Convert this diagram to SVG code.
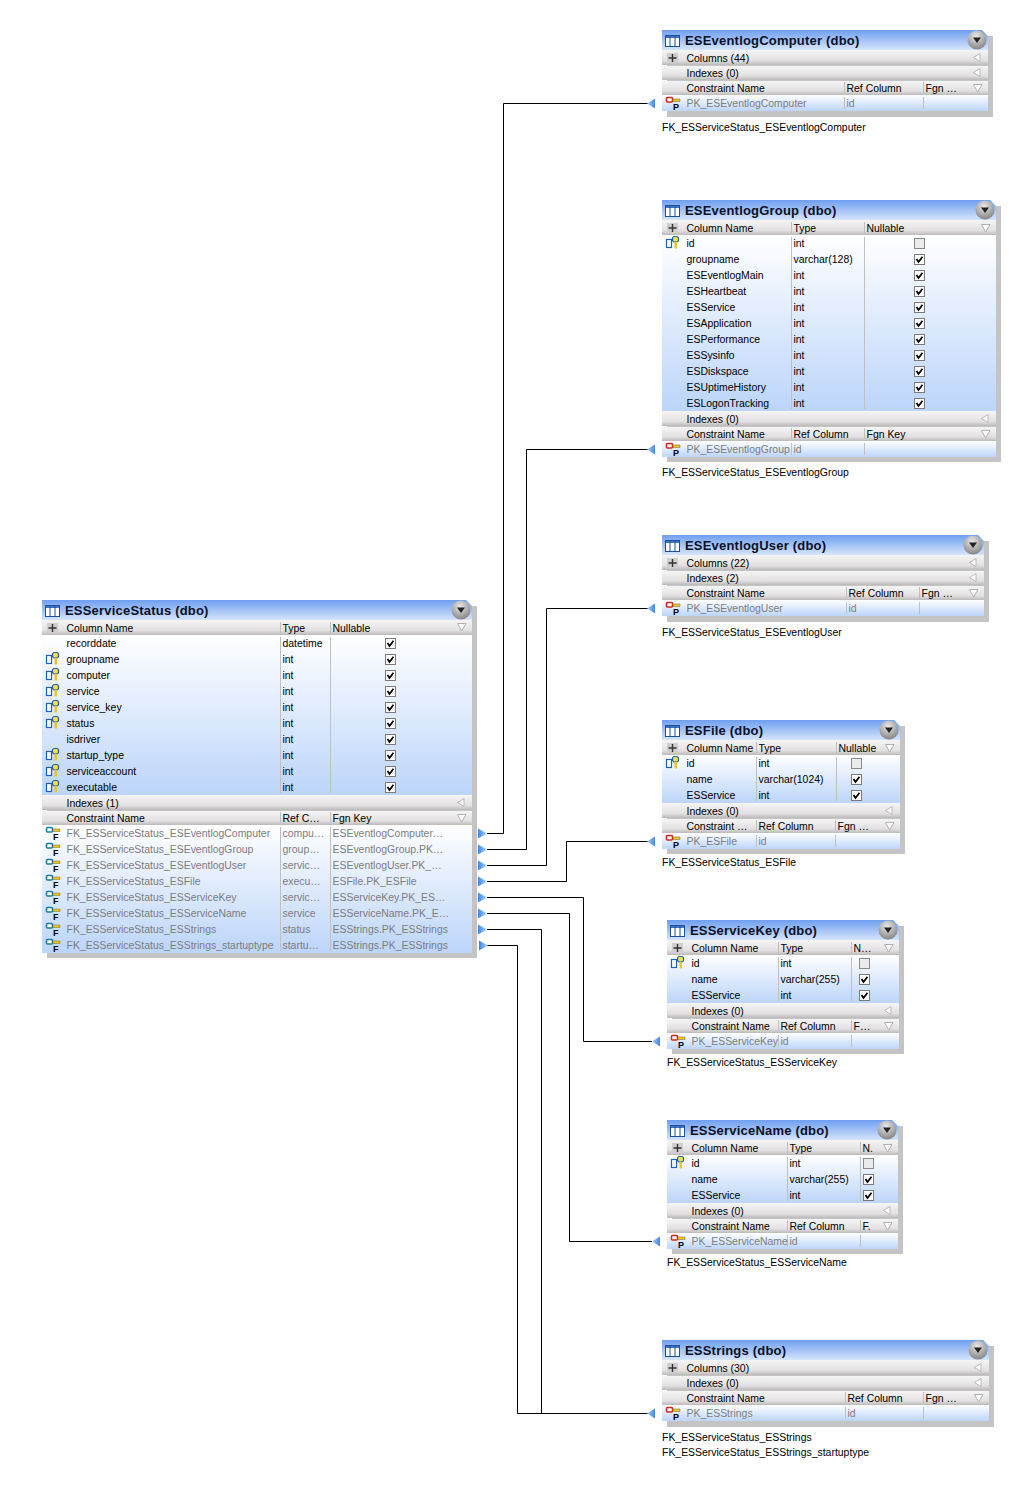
<svg xmlns="http://www.w3.org/2000/svg" width="1023" height="1489" viewBox="0 0 1023 1489">
<style>
text{font-family:"Liberation Sans",Arial,sans-serif;font-size:10.45px;fill:#000}
.g{fill:#7d7d7d}
.ti{font-size:13px;font-weight:bold;fill:#0a1028;letter-spacing:.2px}
.sh{fill:#c4c4c4}
.hb{fill:url(#hband)}
.tb{fill:url(#title)}
.bd{fill:url(#body)}
.dv{stroke:#c0c0c0;stroke-width:1;fill:none}
.cn{stroke:#000;stroke-width:1;fill:none}
.ic{font-size:9px;font-weight:bold;fill:#000}
</style>
<defs>
<linearGradient id="hband" x1="0" y1="0" x2="0" y2="1"><stop offset="0" stop-color="#f6f5f5"/><stop offset=".7" stop-color="#e2e0e0"/><stop offset="1" stop-color="#bcb9b9"/></linearGradient>
<linearGradient id="title" x1="0" y1="0" x2="0" y2="1"><stop offset="0" stop-color="#6f9ff0"/><stop offset="1" stop-color="#d6e5fb"/></linearGradient>
<linearGradient id="body" x1="0" y1="0" x2="0" y2="1"><stop offset="0" stop-color="#ffffff"/><stop offset="1" stop-color="#bcd5fa"/></linearGradient>
<radialGradient id="btn" cx=".45" cy=".3" r=".75"><stop offset="0" stop-color="#e8e8e8"/><stop offset="1" stop-color="#7f7f7f"/></radialGradient>
<linearGradient id="arr" x1="0" y1="0" x2="1" y2="0"><stop offset="0" stop-color="#3f88e6"/><stop offset="1" stop-color="#a9cdf6"/></linearGradient>
<linearGradient id="arl" x1="0" y1="0" x2="1" y2="0"><stop offset="0" stop-color="#a9cdf6"/><stop offset="1" stop-color="#3f88e6"/></linearGradient>
<symbol id="tbl" width="14" height="12" overflow="visible"><rect x="-.5" y=".5" width="14" height="11" fill="#fff" stroke="#1f4f95"/><rect x="0" y="1" width="13" height="2" fill="#3f74c4"/><path d="M4 1V11M9 1V11" stroke="#1f4f95"/></symbol>
<symbol id="btnS" width="20" height="20" overflow="visible"><circle cx="9" cy="8" r="9.500" fill="url(#btn)"/><path d="M5 5.500H13L9 11Z" fill="#222"/></symbol>
<symbol id="plus" width="12" height="12" overflow="visible"><rect x="-1" y="0" width="11" height="10" fill="#d0cece"/><path d="M4.500 1V9M.5 5H8.500" stroke="#333" stroke-width="1.400"/></symbol>
<symbol id="tri" width="12" height="12" overflow="visible"><path d="M.5 4.500L7 .5V8.500Z" fill="#fff" stroke="#b9b9b9"/></symbol>
<symbol id="trd" width="12" height="12" overflow="visible"><path d="M.5 .5H9L4.700 8Z" fill="#fff" stroke="#b0b0b0"/></symbol>
<symbol id="chk" width="12" height="12" overflow="visible"><rect x=".5" y=".5" width="10" height="10" fill="#fff" stroke="#7a7a7a"/><path d="M2.500 5L4.500 8L8.500 2.800" fill="none" stroke="#000" stroke-width="1.800"/></symbol>
<symbol id="unchk" width="12" height="12" overflow="visible"><rect x=".5" y=".5" width="10" height="10" fill="#ececec" stroke="#8a8a8a"/></symbol>
<symbol id="ck" width="16" height="14" overflow="visible"><rect x="-.5" y="2.500" width="5" height="8" fill="#fff" stroke="#1f5fb5" stroke-width="1.200"/><rect x="5.500" y="-.5" width="6" height="5.500" rx="2" fill="#f6df52" stroke="#1d5fa0" stroke-width="1.200"/><rect x="7.500" y="5" width="2.500" height="6.500" fill="#e8c52a"/></symbol>
<symbol id="pk" width="16" height="16" overflow="visible"><rect x=".5" y="-.5" width="6" height="4.500" rx="1" fill="#fff" stroke="#cf2a1c" stroke-width="1.600"/><path d="M7 1H14V3.500H7Z" fill="#e8c52a" stroke="#7a6a20" stroke-width=".5"/><text x="7" y="12" class="ic">P</text></symbol>
<symbol id="fk" width="16" height="16" overflow="visible"><rect x=".5" y="-.5" width="6" height="4.500" rx="1" fill="#fff" stroke="#1e7d9e" stroke-width="1.600"/><path d="M7 1H14V3.500H7Z" fill="#e8c52a" stroke="#7a6a20" stroke-width=".5"/><text x="7" y="12" class="ic">F</text></symbol>
</defs>
<rect width="1023" height="1489" fill="#fff"/>

<g id="connectors">
<path class="cn" d="M487 833.500H503.500V103.500H648"/>
<path class="cn" d="M487 849.500H526.500V449.500H648"/>
<path class="cn" d="M487 865.500H546.500V608.500H648"/>
<path class="cn" d="M487 881.500H566.500V841.500H648"/>
<path class="cn" d="M487 897.500H583.500V1041.500H652"/>
<path class="cn" d="M487 913.500H569.500V1241.500H652"/>
<path class="cn" d="M487 929.500H541.500V1413.500H648"/>
<path class="cn" d="M487 945.500H517.500V1413.500H648"/>
<g fill="url(#arr)">
<path d="M478 828.500L487 833.500L478 838.500Z"/><path d="M478 844.500L487 849.500L478 854.500Z"/><path d="M478 860.500L487 865.500L478 870.500Z"/><path d="M478 876.500L487 881.500L478 886.500Z"/><path d="M478 892.500L487 897.500L478 902.500Z"/><path d="M478 908.500L487 913.500L478 918.500Z"/><path d="M478 924.500L487 929.500L478 934.500Z"/><path d="M479 940.500L488 945.500L479 950.500Z"/>
</g>
<g fill="url(#arl)">
<path d="M655 98.500L647 103.500L655 108.500Z"/><path d="M655 444.500L647 449.500L655 454.500Z"/><path d="M655 603.500L647 608.500L655 613.500Z"/><path d="M655 836.500L647 841.500L655 846.500Z"/><path d="M660 1036.500L652 1041.500L660 1046.500Z"/><path d="M660 1236.500L652 1241.500L660 1246.500Z"/><path d="M655 1408.500L647 1413.500L655 1418.500Z"/>
</g>
</g>

<g id="ESServiceStatus">
<rect class="sh" x="47" y="606" width="430" height="352"/>
<path class="tb" d="M42 600H466L472 606V620H42Z"/>
<rect class="hb" x="42" y="620" width="430" height="15"/>
<rect class="bd" x="42" y="635" width="430" height="160"/>
<rect class="hb" x="42" y="795" width="430" height="15"/>
<rect class="hb" x="42" y="811" width="430" height="14"/>
<rect class="bd" x="42" y="825" width="430" height="128"/>
<use href="#tbl" x="46" y="605"/><text class="ti" x="65" y="615">ESServiceStatus (dbo)</text><use href="#btnS" x="452" y="602"/>
<use href="#plus" x="48" y="623"/>
<text x="66.500" y="632">Column Name</text><text x="282.500" y="632">Type</text><text x="332.500" y="632">Nullable</text>
<use href="#trd" x="457" y="623"/>
<path class="dv" d="M280.500 622V633M330.500 622V633M280.500 637V793M330.500 637V793"/>
<text x="66.500" y="647">recorddate</text><text x="282.500" y="647">datetime</text><use href="#chk" x="385" y="638"/>
<use href="#ck" x="47" y="653"/><text x="66.500" y="663">groupname</text><text x="282.500" y="663">int</text><use href="#chk" x="385" y="654"/>
<use href="#ck" x="47" y="669"/><text x="66.500" y="679">computer</text><text x="282.500" y="679">int</text><use href="#chk" x="385" y="670"/>
<use href="#ck" x="47" y="685"/><text x="66.500" y="695">service</text><text x="282.500" y="695">int</text><use href="#chk" x="385" y="686"/>
<use href="#ck" x="47" y="701"/><text x="66.500" y="711">service_key</text><text x="282.500" y="711">int</text><use href="#chk" x="385" y="702"/>
<use href="#ck" x="47" y="717"/><text x="66.500" y="727">status</text><text x="282.500" y="727">int</text><use href="#chk" x="385" y="718"/>
<text x="66.500" y="743">isdriver</text><text x="282.500" y="743">int</text><use href="#chk" x="385" y="734"/>
<use href="#ck" x="47" y="749"/><text x="66.500" y="759">startup_type</text><text x="282.500" y="759">int</text><use href="#chk" x="385" y="750"/>
<use href="#ck" x="47" y="765"/><text x="66.500" y="775">serviceaccount</text><text x="282.500" y="775">int</text><use href="#chk" x="385" y="766"/>
<use href="#ck" x="47" y="781"/><text x="66.500" y="791">executable</text><text x="282.500" y="791">int</text><use href="#chk" x="385" y="782"/>
<text x="66.500" y="807">Indexes (1)</text><use href="#tri" x="457" y="798"/>
<text x="66.500" y="822">Constraint Name</text><text x="282.500" y="822">Ref C…</text><text x="332.500" y="822">Fgn Key</text><use href="#trd" x="457" y="814"/>
<path class="dv" d="M280.500 812V823M330.500 812V823M280.500 827V951M330.500 827V951"/>
<use href="#fk" x="46" y="828"/><text class="g" x="66.500" y="837">FK_ESServiceStatus_ESEventlogComputer</text><text class="g" x="282.500" y="837">compu…</text><text class="g" x="332.500" y="837">ESEventlogComputer…</text>
<use href="#fk" x="46" y="844"/><text class="g" x="66.500" y="853">FK_ESServiceStatus_ESEventlogGroup</text><text class="g" x="282.500" y="853">group…</text><text class="g" x="332.500" y="853">ESEventlogGroup.PK…</text>
<use href="#fk" x="46" y="860"/><text class="g" x="66.500" y="869">FK_ESServiceStatus_ESEventlogUser</text><text class="g" x="282.500" y="869">servic…</text><text class="g" x="332.500" y="869">ESEventlogUser.PK_…</text>
<use href="#fk" x="46" y="876"/><text class="g" x="66.500" y="885">FK_ESServiceStatus_ESFile</text><text class="g" x="282.500" y="885">execu…</text><text class="g" x="332.500" y="885">ESFile.PK_ESFile</text>
<use href="#fk" x="46" y="892"/><text class="g" x="66.500" y="901">FK_ESServiceStatus_ESServiceKey</text><text class="g" x="282.500" y="901">servic…</text><text class="g" x="332.500" y="901">ESServiceKey.PK_ES…</text>
<use href="#fk" x="46" y="908"/><text class="g" x="66.500" y="917">FK_ESServiceStatus_ESServiceName</text><text class="g" x="282.500" y="917">service</text><text class="g" x="332.500" y="917">ESServiceName.PK_E…</text>
<use href="#fk" x="46" y="924"/><text class="g" x="66.500" y="933">FK_ESServiceStatus_ESStrings</text><text class="g" x="282.500" y="933">status</text><text class="g" x="332.500" y="933">ESStrings.PK_ESStrings</text>
<use href="#fk" x="46" y="940"/><text class="g" x="66.500" y="949">FK_ESServiceStatus_ESStrings_startuptype</text><text class="g" x="282.500" y="949">startu…</text><text class="g" x="332.500" y="949">ESStrings.PK_ESStrings</text>
</g>

<g id="ESEventlogComputer">
<rect class="sh" x="667" y="36" width="326" height="81"/>
<path class="tb" d="M662 30H982L988 36V50H662Z"/>
<rect class="hb" x="662" y="50" width="326" height="15"/><rect class="hb" x="662" y="66" width="326" height="14"/><rect class="hb" x="662" y="81" width="326" height="14"/><rect class="bd" x="662" y="95" width="326" height="16"/>
<use href="#tbl" x="666" y="35"/><text class="ti" x="685" y="45">ESEventlogComputer (dbo)</text><use href="#btnS" x="968" y="32"/>
<use href="#plus" x="668" y="53"/><text x="686.500" y="62">Columns (44)</text><use href="#tri" x="973" y="53"/>
<text x="686.500" y="77">Indexes (0)</text><use href="#tri" x="973" y="68"/>
<text x="686.500" y="92">Constraint Name</text><text x="846.500" y="92">Ref Column</text><text x="925.500" y="92">Fgn …</text><use href="#trd" x="973" y="84"/>
<path class="dv" d="M844.500 82V93M923.500 82V93M844.500 97V109M923.500 97V109"/>
<use href="#pk" x="666" y="98"/><text class="g" x="686.500" y="107">PK_ESEventlogComputer</text><text class="g" x="846.500" y="107">id</text>
<text x="662" y="131">FK_ESServiceStatus_ESEventlogComputer</text>
</g>

<g id="ESEventlogGroup">
<rect class="sh" x="667" y="206" width="334" height="256"/>
<path class="tb" d="M662 200H990L996 206V220H662Z"/>
<rect class="hb" x="662" y="220" width="334" height="15"/><rect class="bd" x="662" y="235" width="334" height="176"/><rect class="hb" x="662" y="411" width="334" height="15"/><rect class="hb" x="662" y="427" width="334" height="14"/><rect class="bd" x="662" y="441" width="334" height="16"/>
<use href="#tbl" x="666" y="205"/><text class="ti" x="685" y="215">ESEventlogGroup (dbo)</text><use href="#btnS" x="976" y="202"/>
<use href="#plus" x="668" y="223"/><text x="686.500" y="232">Column Name</text><text x="793.500" y="232">Type</text><text x="866.500" y="232">Nullable</text><use href="#trd" x="981" y="224"/>
<path class="dv" d="M791.500 222V233M864.500 222V233M791.500 237V409M864.500 237V409M791.500 428V439M864.500 428V439M791.500 443V455M864.500 443V455"/>
<use href="#ck" x="667" y="237"/><text x="686.500" y="247">id</text><text x="793.500" y="247">int</text><use href="#unchk" x="914" y="238"/>
<text x="686.500" y="263">groupname</text><text x="793.500" y="263">varchar(128)</text><use href="#chk" x="914" y="254"/>
<text x="686.500" y="279">ESEventlogMain</text><text x="793.500" y="279">int</text><use href="#chk" x="914" y="270"/>
<text x="686.500" y="295">ESHeartbeat</text><text x="793.500" y="295">int</text><use href="#chk" x="914" y="286"/>
<text x="686.500" y="311">ESService</text><text x="793.500" y="311">int</text><use href="#chk" x="914" y="302"/>
<text x="686.500" y="327">ESApplication</text><text x="793.500" y="327">int</text><use href="#chk" x="914" y="318"/>
<text x="686.500" y="343">ESPerformance</text><text x="793.500" y="343">int</text><use href="#chk" x="914" y="334"/>
<text x="686.500" y="359">ESSysinfo</text><text x="793.500" y="359">int</text><use href="#chk" x="914" y="350"/>
<text x="686.500" y="375">ESDiskspace</text><text x="793.500" y="375">int</text><use href="#chk" x="914" y="366"/>
<text x="686.500" y="391">ESUptimeHistory</text><text x="793.500" y="391">int</text><use href="#chk" x="914" y="382"/>
<text x="686.500" y="407">ESLogonTracking</text><text x="793.500" y="407">int</text><use href="#chk" x="914" y="398"/>
<text x="686.500" y="423">Indexes (0)</text><use href="#tri" x="981" y="414"/>
<text x="686.500" y="438">Constraint Name</text><text x="793.500" y="438">Ref Column</text><text x="866.500" y="438">Fgn Key</text><use href="#trd" x="981" y="430"/>
<use href="#pk" x="666" y="444"/><text class="g" x="686.500" y="453">PK_ESEventlogGroup</text><text class="g" x="793.500" y="453">id</text>
<text x="662" y="476">FK_ESServiceStatus_ESEventlogGroup</text>
</g>

<g id="ESEventlogUser">
<rect class="sh" x="667" y="541" width="322" height="81"/>
<path class="tb" d="M662 535H978L984 541V555H662Z"/>
<rect class="hb" x="662" y="555" width="322" height="15"/><rect class="hb" x="662" y="571" width="322" height="14"/><rect class="hb" x="662" y="586" width="322" height="14"/><rect class="bd" x="662" y="600" width="322" height="16"/>
<use href="#tbl" x="666" y="540"/><text class="ti" x="685" y="550">ESEventlogUser (dbo)</text><use href="#btnS" x="964" y="537"/>
<use href="#plus" x="668" y="558"/><text x="686.500" y="567">Columns (22)</text><use href="#tri" x="969" y="558"/>
<text x="686.500" y="582">Indexes (2)</text><use href="#tri" x="969" y="573"/>
<text x="686.500" y="597">Constraint Name</text><text x="848.500" y="597">Ref Column</text><text x="921.500" y="597">Fgn …</text><use href="#trd" x="969" y="589"/>
<path class="dv" d="M846.500 587V598M919.500 587V598M846.500 602V614M919.500 602V614"/>
<use href="#pk" x="666" y="603"/><text class="g" x="686.500" y="612">PK_ESEventlogUser</text><text class="g" x="848.500" y="612">id</text>
<text x="662" y="636">FK_ESServiceStatus_ESEventlogUser</text>
</g>

<g id="ESFile">
<rect class="sh" x="667" y="726" width="238" height="128"/>
<path class="tb" d="M662 720H894L900 726V740H662Z"/>
<rect class="hb" x="662" y="740" width="238" height="15"/><rect class="bd" x="662" y="755" width="238" height="48"/><rect class="hb" x="662" y="803" width="238" height="15"/><rect class="hb" x="662" y="819" width="238" height="14"/><rect class="bd" x="662" y="833" width="238" height="16"/>
<use href="#tbl" x="666" y="725"/><text class="ti" x="685" y="735">ESFile (dbo)</text><use href="#btnS" x="880" y="722"/>
<use href="#plus" x="668" y="743"/><text x="686.500" y="752">Column Name</text><text x="758.500" y="752">Type</text><text x="838.500" y="752">Nullable</text><use href="#trd" x="885" y="744"/>
<path class="dv" d="M756.500 742V753M836.500 742V753M756.500 757V801M836.500 757V801M756.500 820V831M835.500 820V831M756.500 835V847M835.500 835V847"/>
<use href="#ck" x="667" y="757"/><text x="686.500" y="767">id</text><text x="758.500" y="767">int</text><use href="#unchk" x="851" y="758"/>
<text x="686.500" y="783">name</text><text x="758.500" y="783">varchar(1024)</text><use href="#chk" x="851" y="774"/>
<text x="686.500" y="799">ESService</text><text x="758.500" y="799">int</text><use href="#chk" x="851" y="790"/>
<text x="686.500" y="815">Indexes (0)</text><use href="#tri" x="885" y="806"/>
<text x="686.500" y="830">Constraint …</text><text x="758.500" y="830">Ref Column</text><text x="837.500" y="830">Fgn …</text><use href="#trd" x="885" y="822"/>
<use href="#pk" x="666" y="836"/><text class="g" x="686.500" y="845">PK_ESFile</text><text class="g" x="758.500" y="845">id</text>
<text x="662" y="866">FK_ESServiceStatus_ESFile</text>
</g>

<g id="ESServiceKey">
<rect class="sh" x="672" y="926" width="232" height="128"/>
<path class="tb" d="M667 920H893L899 926V940H667Z"/>
<rect class="hb" x="667" y="940" width="232" height="15"/><rect class="bd" x="667" y="955" width="232" height="48"/><rect class="hb" x="667" y="1003" width="232" height="15"/><rect class="hb" x="667" y="1019" width="232" height="14"/><rect class="bd" x="667" y="1033" width="232" height="16"/>
<use href="#tbl" x="671" y="925"/><text class="ti" x="690" y="935">ESServiceKey (dbo)</text><use href="#btnS" x="879" y="922"/>
<use href="#plus" x="673" y="943"/><text x="691.500" y="952">Column Name</text><text x="780.500" y="952">Type</text><text x="853.500" y="952">N…</text><use href="#trd" x="884" y="944"/>
<path class="dv" d="M778.500 942V953M851.500 942V953M778.500 957V1001M851.500 957V1001M778.500 1020V1031M851.500 1020V1031M778.500 1035V1047M851.500 1035V1047"/>
<use href="#ck" x="672" y="957"/><text x="691.500" y="967">id</text><text x="780.500" y="967">int</text><use href="#unchk" x="859" y="958"/>
<text x="691.500" y="983">name</text><text x="780.500" y="983">varchar(255)</text><use href="#chk" x="859" y="974"/>
<text x="691.500" y="999">ESService</text><text x="780.500" y="999">int</text><use href="#chk" x="859" y="990"/>
<text x="691.500" y="1015">Indexes (0)</text><use href="#tri" x="884" y="1006"/>
<text x="691.500" y="1030">Constraint Name</text><text x="780.500" y="1030">Ref Column</text><text x="853.500" y="1030">F…</text><use href="#trd" x="884" y="1022"/>
<use href="#pk" x="671" y="1036"/><text class="g" x="691.500" y="1045">PK_ESServiceKey</text><text class="g" x="780.500" y="1045">id</text>
<text x="667" y="1066">FK_ESServiceStatus_ESServiceKey</text>
</g>

<g id="ESServiceName">
<rect class="sh" x="672" y="1126" width="231" height="128"/>
<path class="tb" d="M667 1120H892L898 1126V1140H667Z"/>
<rect class="hb" x="667" y="1140" width="231" height="15"/><rect class="bd" x="667" y="1155" width="231" height="48"/><rect class="hb" x="667" y="1203" width="231" height="15"/><rect class="hb" x="667" y="1219" width="231" height="14"/><rect class="bd" x="667" y="1233" width="231" height="16"/>
<use href="#tbl" x="671" y="1125"/><text class="ti" x="690" y="1135">ESServiceName (dbo)</text><use href="#btnS" x="878" y="1122"/>
<use href="#plus" x="673" y="1143"/><text x="691.500" y="1152">Column Name</text><text x="789.500" y="1152">Type</text><text x="862.500" y="1152">N.</text><use href="#trd" x="883" y="1144"/>
<path class="dv" d="M787.500 1142V1153M860.500 1142V1153M787.500 1157V1201M860.500 1157V1201M787.500 1220V1231M860.500 1220V1231M787.500 1235V1247M860.500 1235V1247"/>
<use href="#ck" x="672" y="1157"/><text x="691.500" y="1167">id</text><text x="789.500" y="1167">int</text><use href="#unchk" x="863" y="1158"/>
<text x="691.500" y="1183">name</text><text x="789.500" y="1183">varchar(255)</text><use href="#chk" x="863" y="1174"/>
<text x="691.500" y="1199">ESService</text><text x="789.500" y="1199">int</text><use href="#chk" x="863" y="1190"/>
<text x="691.500" y="1215">Indexes (0)</text><use href="#tri" x="883" y="1206"/>
<text x="691.500" y="1230">Constraint Name</text><text x="789.500" y="1230">Ref Column</text><text x="862.500" y="1230">F.</text><use href="#trd" x="883" y="1222"/>
<use href="#pk" x="671" y="1236"/><text class="g" x="691.500" y="1245">PK_ESServiceName</text><text class="g" x="789.500" y="1245">id</text>
<text x="667" y="1266">FK_ESServiceStatus_ESServiceName</text>
</g>

<g id="ESStrings">
<rect class="sh" x="667" y="1346" width="327" height="81"/>
<path class="tb" d="M662 1340H983L989 1346V1360H662Z"/>
<rect class="hb" x="662" y="1360" width="327" height="15"/><rect class="hb" x="662" y="1376" width="327" height="14"/><rect class="hb" x="662" y="1391" width="327" height="14"/><rect class="bd" x="662" y="1405" width="327" height="16"/>
<use href="#tbl" x="666" y="1345"/><text class="ti" x="685" y="1355">ESStrings (dbo)</text><use href="#btnS" x="969" y="1342"/>
<use href="#plus" x="668" y="1363"/><text x="686.500" y="1372">Columns (30)</text><use href="#tri" x="974" y="1363"/>
<text x="686.500" y="1387">Indexes (0)</text><use href="#tri" x="974" y="1378"/>
<text x="686.500" y="1402">Constraint Name</text><text x="847.500" y="1402">Ref Column</text><text x="925.500" y="1402">Fgn …</text><use href="#trd" x="974" y="1394"/>
<path class="dv" d="M845.500 1392V1403M923.500 1392V1403M845.500 1407V1419M923.500 1407V1419"/>
<use href="#pk" x="666" y="1408"/><text class="g" x="686.500" y="1417">PK_ESStrings</text><text class="g" x="847.500" y="1417">id</text>
<text x="662" y="1441">FK_ESServiceStatus_ESStrings</text>
<text x="662" y="1456">FK_ESServiceStatus_ESStrings_startuptype</text>
</g>
</svg>
